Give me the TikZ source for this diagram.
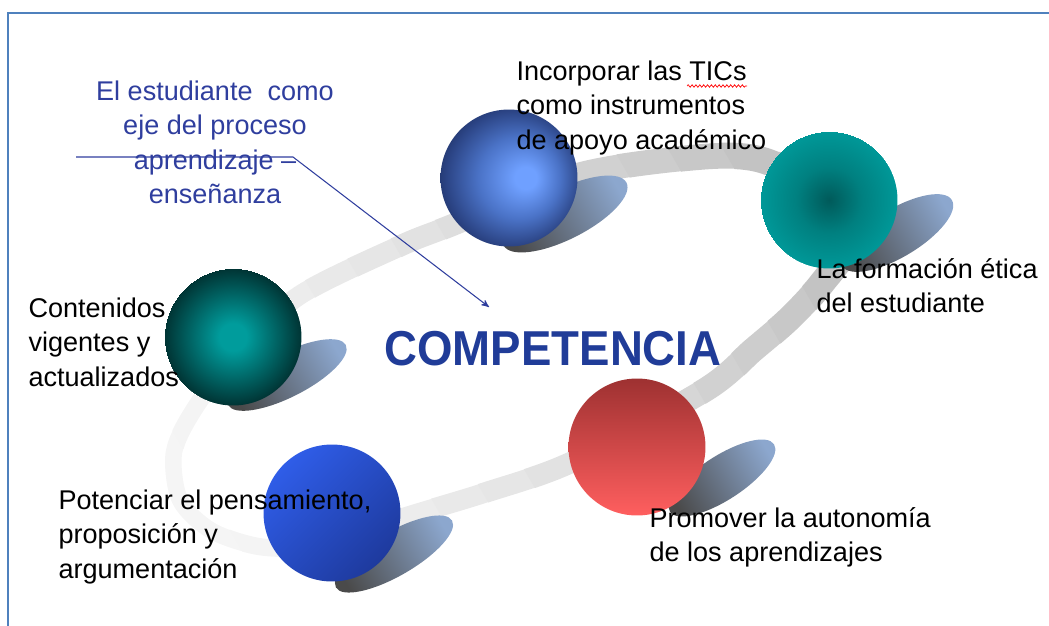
\documentclass[tikz,border=0pt]{standalone}
\usepackage{fontspec}
\setmainfont{Liberation Sans}
\newfontfamily\titulofont[FakeStretch=0.93]{Liberation Sans}
\usetikzlibrary{arrows,decorations.pathmorphing}

\definecolor{marco}{HTML}{4F81BD}
\definecolor{azultexto}{HTML}{2F3E9E}
\definecolor{azultitulo}{HTML}{203C98}
\definecolor{aroclaro}{HTML}{F5F5F5}
\definecolor{arooscuro}{HTML}{BEBEBE}
\definecolor{sombraoscura}{HTML}{4A4A4A}
\definecolor{sombraclara}{HTML}{8CA7CE}
\definecolor{ticclaro}{HTML}{6FA0FF}
\definecolor{ticmedio}{HTML}{4A72C6}
\definecolor{ticoscuro}{HTML}{2A4282}
\definecolor{ticborde}{HTML}{18254A}
\definecolor{eticacentro}{HTML}{005A5A}
\definecolor{eticamedio}{HTML}{008080}
\definecolor{eticaborde}{HTML}{009898}
\definecolor{contcentro}{HTML}{009C9C}
\definecolor{contborde}{HTML}{003434}
\definecolor{rojooscuro}{HTML}{9E3131}
\definecolor{rojoclaro}{HTML}{FF5F5F}
\definecolor{azulclaro}{HTML}{2F5DE8}
\definecolor{azuloscuro}{HTML}{1E3A9E}

\pgfdeclareradialshading{bolatic}{\pgfpoint{7bp}{0bp}}{color(0bp)=(ticclaro); color(4bp)=(ticclaro); color(15bp)=(ticmedio); color(25bp)=(ticoscuro); color(32bp)=(ticborde)}
\pgfdeclareradialshading{bolaetica}{\pgfpoint{0bp}{0bp}}{color(0bp)=(eticacentro); color(12bp)=(eticamedio); color(25bp)=(eticaborde)}
\pgfdeclareradialshading{bolacont}{\pgfpoint{0bp}{0bp}}{color(0bp)=(contcentro); color(5bp)=(contcentro); color(25bp)=(contborde)}

\begin{document}
\begin{tikzpicture}[x=0.02cm,y=-0.02cm,>=stealth',semithick,
    texto/.style={font=\fontsize{15.4}{19.6}\selectfont,align=left,inner sep=0pt,anchor=north west},
    bola/.style={circle,inner sep=0pt,minimum size=2.74cm,shade},
    sombra/.style={left color=sombraoscura,right color=sombraclara,shading angle=120}]
  \useasboundingbox (0,0) rectangle (1049,626);
  \draw[marco,line width=0.85pt] (8,626) -- (8,13) -- (1049,13);

  % aro de fondo, en franjas de claro a oscuro
  \foreach \i in {0,...,15}{
    \pgfmathsetmacro{\xa}{130+\i*47.5}
    \pgfmathsetmacro{\xb}{\xa+48.5}
    \pgfmathsetmacro{\tono}{100*(1-(\i/15)^1.4)}
    \pgfmathsetmacro{\grosor}{9.4+\i*0.4}
    \begin{scope}
      \clip[rotate around={30:(510,350)}] (\xa,-300) rectangle (\xb,1000);
      \draw[line width=\grosor pt,draw=aroclaro!\tono!arooscuro] plot[smooth cycle] coordinates {(400,246) (450,226) (578,175) (700,157) (762,160) (822,192) (845,245) (822,283) (790,318) (753,350) (705,390) (572,462) (484,493) (405,517) (320,545) (262,547) (212,531) (180,500) (174,452) (195,408) (238,352) (300,295)};
    \end{scope}
  }

  % sombras
  \shade[sombra] (565,214) ellipse [x radius=69,y radius=25,rotate=27];
  \shade[sombra] (897,233) ellipse [x radius=64,y radius=24,rotate=31];
  \shade[sombra] (287,375) ellipse [x radius=66,y radius=22,rotate=27];
  \shade[sombra] (722,478) ellipse [x radius=62,y radius=22,rotate=33];
  \shade[sombra] (394,554) ellipse [x radius=67,y radius=22,rotate=30];

  % esferas
  \node[bola,shading=bolatic]  (TIC)   at (509,178) {};
  \node[bola,shading=bolaetica] (Etica) at (829,200) {};
  \node[bola,shading=bolacont] (Cont)  at (233,337) {};
  \node[bola,top color=rojooscuro,bottom color=rojoclaro] (Auto) at (637,447) {};
  \node[bola,top color=azulclaro,bottom color=azuloscuro,shading angle=45] (Pens) at (332,513) {};

  % textos
  \node[texto] (tTIC)   at (516,60)  {Incorporar las TICs\\como instrumentos\\de apoyo académico};
  \node[texto] (tEtica) at (816,258) {La formación ética\\del estudiante};
  \node[texto] (tCont)  at (28,297)  {Contenidos\\vigentes y\\actualizados};
  \node[texto] (tPens)  at (58,489)  {Potenciar el pensamiento,\\proposición y\\argumentación};
  \node[texto] (tAuto)  at (649,507) {Promover la autonomía\\de los aprendizajes};
  \node[texto,align=center,anchor=north,text=azultexto] (tEje) at (215,80)
       {El estudiante\ \ como\\eje del proceso\\aprendizaje –\\enseñanza};
  \node[font=\titulofont\bfseries\fontsize{27.9}{30}\selectfont,text=azultitulo,inner sep=0pt,anchor=base]
       (Comp) at (553,365) {COMPETENCIA};

  \draw[red,line width=0.4pt,decorate,decoration={snake,amplitude=0.7pt,segment length=2.2pt}]
       (687,86) -- (747,86);

  % flecha del estudiante
  \coordinate (E1) at (76,157);
  \coordinate (E2) at (293,157);
  \coordinate (E3) at (489,307);
  \draw[->,azultexto,line width=0.6pt] (E1) -- (E2) -- (E3);
\end{tikzpicture}
\end{document}
